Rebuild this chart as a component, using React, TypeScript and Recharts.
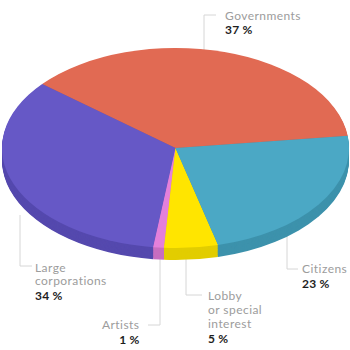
import React from "react";
import { Cell, Pie, PieChart } from "recharts";

// values
const categories = ["Governments", "Large corporations", "Artists", "Lobby or special interest", "Citizens"];
const shares = [37, 34, 1, 5, 23];
const labelLines = [["Governments"], ["Large", "corporations"], ["Artists"], ["Lobby", "or special", "interest"], ["Citizens"]];

const topColors = ["#E16A53", "#6658C6", "#E480DB", "#FFE500", "#4BA8C5"];
const sideColors = ["#C45A46", "#5549AE", "#C86EC0", "#E2CD00", "#3D92AC"];

// ellipse geometry (screen px)
const W = 350;
const CX = 175.5;
const RX = 173.5;
const RY = 100;
const CY = 148;
const DEPTH = 12;
const S = RY / RX;
const CH = 460;
const LAYERS = 14;

// label layout: leader polyline + text anchor
const layout = [
  { pts: "204,60 204,15 216,15", x: 225, y: 19.5, anchor: "start" },
  { pts: "20,215 20,266 32,266", x: 35, y: 271.5, anchor: "start" },
  { pts: "160,250 160,325 148,325", x: 139.5, y: 328.5, anchor: "end" },
  { pts: "186,250 186,295 202,295", x: 208, y: 300, anchor: "start" },
  { pts: "287,235 287,269 298,269", x: 302, y: 272.5, anchor: "start" },
];

const data = categories.map((name, i) => ({ name, value: shares[i] }));

export default function App() {
  const cyc = CY / S;
  const dc = DEPTH / S;
  return (
    <div style={{ position: "absolute", left: 0, top: 0, width: W, height: 350, background: "#fff", fontFamily: "Lato, 'Open Sans', sans-serif" }}>
      <svg width={W} height={350} style={{ position: "absolute", left: 0, top: 0 }}>
        {layout.map((l, i) => (
          <polyline key={i} points={l.pts} fill="none" stroke="#d6d6d6" strokeWidth={1} />
        ))}
      </svg>
      <div style={{ position: "absolute", left: 0, top: 0, width: W, height: CH, transform: `scaleY(${S})`, transformOrigin: "0 0" }}>
        <PieChart width={W} height={CH} margin={{ top: 0, right: 0, bottom: 0, left: 0 }}>
          {Array.from({ length: LAYERS }).map((_, k) => (
            <Pie
              key={`side-${k}`}
              data={data}
              dataKey="value"
              cx={CX}
              cy={cyc + dc - (dc * k) / LAYERS}
              outerRadius={RX}
              startAngle={7}
              endAngle={367}
              stroke="none"
              isAnimationActive={false}
            >
              {data.map((d, i) => (
                <Cell key={d.name} fill={sideColors[i]} />
              ))}
            </Pie>
          ))}
          <Pie
            data={data}
            dataKey="value"
            cx={CX}
            cy={cyc}
            outerRadius={RX}
            startAngle={7}
            endAngle={367}
            stroke="none"
            isAnimationActive={false}
          >
            {data.map((d, i) => (
              <Cell key={d.name} fill={topColors[i]} />
            ))}
          </Pie>
        </PieChart>
      </div>
      <svg width={W} height={350} style={{ position: "absolute", left: 0, top: 0 }}>
        {layout.map((l, i) => (
          <g key={i} fontFamily="Lato, sans-serif" fontSize={12} letterSpacing={0.45} textAnchor={l.anchor as any}>
            {labelLines[i].map((t, j) => (
              <text key={j} x={l.x} y={l.y + j * 13.8} fill="#9c9c9c">
                {t}
              </text>
            ))}
            <text x={l.x} y={l.y + (labelLines[i].length - 1) * 13.8 + (i === 0 ? 14 : 15)} fill="#1e1e1e" fontWeight={700} letterSpacing={0.2}>
              {`${shares[i]} %`}
            </text>
          </g>
        ))}
      </svg>
    </div>
  );
}
